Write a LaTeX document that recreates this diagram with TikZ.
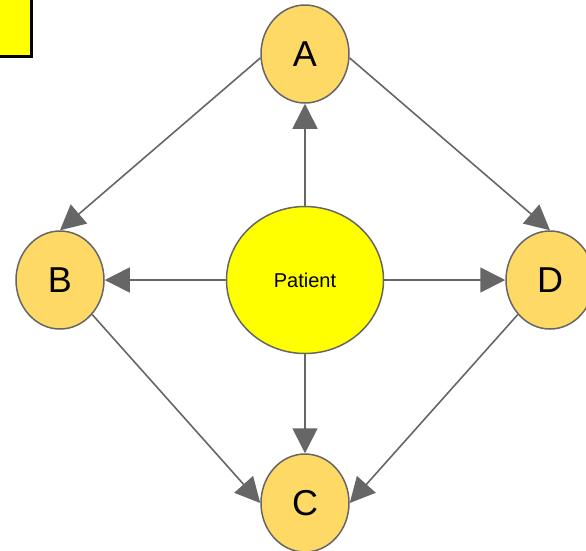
\documentclass[tikz,border=0pt]{standalone}
\usepackage{fontspec}
\setmainfont{Liberation Sans}
\usepackage{tikz}
\usetikzlibrary{shapes.geometric, arrows.meta}
\definecolor{nodefill}{HTML}{FFD966}
\definecolor{patientfill}{HTML}{FFFF00}
\definecolor{edgegray}{HTML}{666666}
\tikzset{letter/.style={ellipse, draw=edgegray, line width=1.5pt, fill=nodefill, minimum width=88pt, minimum height=98pt, inner sep=0pt, font=\fontsize{36}{40}\selectfont}}
\tikzset{patient/.style={ellipse, draw=edgegray, line width=1.5pt, fill=patientfill, minimum width=157pt, minimum height=147pt, inner sep=0pt, font=\fontsize{20}{24}\selectfont}}
\tikzset{arrow/.style={draw=edgegray, line width=1.6pt, -{Triangle[length=25pt, width=25pt]}}}

\begin{document}
\begin{tikzpicture}[x=1pt, y=-1pt]
    \useasboundingbox (0,0) rectangle (586,550);
    % the little box in the corner
    \filldraw [fill=patientfill, draw=black, line width=3pt] (-10,-10) rectangle (31,56);

    \node [patient] at (305,280) (patient) {Patient};
    \node [letter] at (305,54) (A) {A};
    \node [letter] at (60,280) (B) {B};
    \node [letter] at (305,503) (C) {C};
    \node [letter] at (550,280) (D) {D};

    % from the patient outwards
    \draw [arrow] (patient) -- (A);
    \draw [arrow] (patient) -- (B);
    \draw [arrow] (patient) -- (C);
    \draw [arrow] (patient) -- (D);

    % round the outside
    \draw [arrow] (A.185) -- (B.north);
    \draw [arrow] (A.-5) -- (D.north);
    \draw [arrow] (B.-47) -- (C.west);
    \draw [arrow] (D.-133) -- (C.east);
\end{tikzpicture}
\end{document}
